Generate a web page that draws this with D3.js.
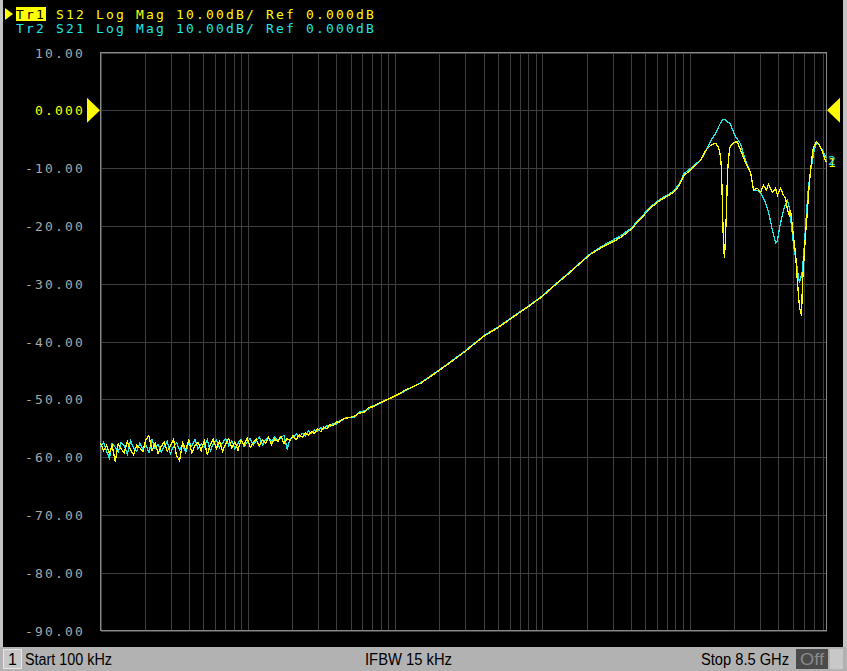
<!DOCTYPE html>
<html>
<head>
<meta charset="utf-8">
<script src="https://cdn.jsdelivr.net/npm/d3@7"></script>
<style>
  body { margin: 0; background: #c0c0c0; }
  svg { display: block; }
  .mono { font-family: "DejaVu Sans Mono", "Liberation Mono", monospace; font-size: 13px; letter-spacing: 2.17px; }
  .bar { font-family: "Liberation Sans Narrow", "Arial Narrow", "Liberation Sans", sans-serif; font-size: 16px; }
</style>
</head>
<body>
<script>
// frequency points of the sweep (MHz)
var freqMHz = [
	0.100, 0.105, 0.110, 0.115, 0.120, 0.126, 0.132, 0.138, 0.145, 0.152,
	0.160, 0.168, 0.176, 0.185, 0.194, 0.203, 0.213, 0.224, 0.235, 0.246,
	0.258, 0.271, 0.284, 0.298, 0.313, 0.328, 0.344, 0.361, 0.379, 0.398,
	0.417, 0.438, 0.459, 0.482, 0.506, 0.531, 0.557, 0.584, 0.613, 0.643,
	0.675, 0.708, 0.743, 0.780, 0.818, 0.858, 0.900, 0.945, 0.990, 1.04,
	1.09, 1.14, 1.20, 1.26, 1.32, 1.38, 1.45, 1.52, 1.60, 1.68,
	1.76, 1.85, 1.94, 2.03, 2.13, 2.24, 2.35, 2.46, 2.58, 2.71,
	2.84, 2.98, 3.13, 3.28, 3.44, 3.61, 3.79, 3.98, 4.17, 4.38,
	4.59, 5.0, 5.3, 5.7, 6.2, 6.6, 7.1, 7.7, 8.4, 9.2,
	10, 12, 15, 20, 25, 30, 40, 50, 60, 70,
	80, 100, 120, 150, 180, 210, 250, 300, 350, 400,
	450, 500, 560, 630, 700, 780, 850, 920, 1000, 1100,
	1186, 1282, 1323, 1386, 1430, 1499, 1571, 1621, 1647, 1673,
	1698, 1725, 1752, 1780, 1808, 1866, 1895, 1986, 2049, 2114,
	2216, 2395, 2591, 2715, 2890, 3029, 3175, 3327, 3432, 3654,
	3830, 3952, 4014, 4142, 4341, 4477, 4620, 4767, 4842, 4996,
	5074, 5235, 5402, 5573, 5751, 5840, 6026, 6121, 6315, 6415,
	6619, 6828, 6935, 7269, 7500, 7739, 7982, 8366, 8500
];

// Tr1 S12 (dB)
var s12 = [
	-57.6, -58.9, -57.9, -59.4, -58.0, -60.8, -57.7, -58.6, -59.2, -57.3,
	-58.8, -59.6, -57.9, -58.4, -59.1, -57.0, -56.3, -58.9, -57.6, -59.4,
	-58.2, -57.4, -59.0, -58.1, -56.9, -59.7, -60.6, -57.5, -58.7, -57.1,
	-59.3, -58.0, -57.4, -58.9, -57.2, -59.6, -57.8, -56.9, -58.5, -57.3,
	-59.0, -57.7, -56.8, -58.4, -57.4, -58.8, -57.1, -57.9, -56.7, -58.3,
	-57.5, -56.9, -58.1, -57.0, -57.6, -56.6, -57.8, -56.9, -57.3, -56.4,
	-57.6, -56.8, -57.1, -56.3, -57.0, -56.1, -56.6, -55.8, -56.2, -55.6,
	-55.9, -55.1, -55.6, -54.8, -55.1, -54.4, -54.6, -53.9, -54.0, -53.5,
	-53.3, -53.1, -52.9, -52.4, -52.2, -51.4, -51.3, -50.7, -50.4, -49.8,
	-49.4, -48.3, -47.2, -45.0, -43.2, -41.7, -39.1, -37.6, -36.2, -35.0,
	-34.0, -32.2, -30.4, -28.3, -26.5, -25.0, -23.8, -22.8, -21.8, -20.6,
	-19.2, -17.9, -16.6, -15.6, -14.9, -14.2, -13.0, -11.2, -10.5, -9.5,
	-8.7, -7.0, -6.6, -6.1, -5.9, -5.7, -6.4, -8.0, -10.4, -17.3,
	-23.1, -25.6, -22.0, -17.3, -10.7, -6.6, -6.2, -5.7, -5.5, -5.5,
	-6.9, -9.0, -10.7, -13.8, -13.5, -14.2, -13.0, -13.8, -12.8, -14.2,
	-13.5, -14.7, -14.2, -13.5, -14.7, -15.2, -17.3, -18.2, -17.3, -20.2,
	-22.0, -24.7, -29.9, -34.1, -35.5, -29.9, -24.2, -21.5, -17.3, -14.5,
	-10.4, -7.5, -6.4, -5.4, -5.8, -6.4, -7.2, -8.7, -8.9
];

// Tr2 S21 (dB)
var s21 = [
	-58.2, -57.4, -59.0, -60.2, -57.6, -58.3, -59.1, -57.5, -58.0, -59.5,
	-57.2, -58.4, -59.0, -57.6, -58.7, -57.9, -59.2, -57.0, -58.5, -57.8,
	-59.1, -58.0, -57.3, -59.4, -58.2, -57.5, -58.8, -57.9, -59.2, -57.4,
	-58.1, -56.9, -58.6, -57.7, -58.3, -57.0, -58.9, -57.6, -57.1, -58.4,
	-57.5, -56.8, -58.0, -57.2, -58.6, -57.6, -56.9, -58.2, -57.4, -56.8,
	-57.9, -57.2, -56.6, -57.9, -57.0, -56.6, -57.3, -56.5, -57.2, -56.7,
	-56.2, -58.6, -56.8, -56.6, -56.0, -56.5, -55.9, -56.3, -55.5, -55.9,
	-55.3, -55.5, -54.9, -55.2, -54.6, -54.7, -54.2, -54.3, -53.8, -53.6,
	-53.2, -53.2, -53.1, -52.2, -52.0, -51.7, -51.1, -50.9, -50.2, -49.9,
	-49.5, -48.4, -47.1, -44.9, -43.1, -41.6, -39.0, -37.5, -36.1, -34.9,
	-33.9, -32.1, -30.3, -28.2, -26.4, -24.9, -23.6, -22.5, -21.5, -20.4,
	-19.0, -17.7, -16.4, -15.4, -14.7, -14.0, -12.7, -10.9, -10.2, -9.2,
	-8.7, -7.2, -6.4, -5.4, -4.8, -4.0, -2.9, -2.2, -1.9, -1.7,
	-1.6, -1.6, -1.6, -1.8, -2.0, -2.2, -2.5, -3.7, -4.6, -5.0,
	-5.8, -8.7, -10.7, -13.8, -13.9, -14.2, -15.2, -16.5, -17.6, -20.8,
	-22.9, -22.6, -21.3, -19.5, -17.3, -16.2, -15.6, -17.0, -18.5, -21.5,
	-23.1, -25.5, -27.7, -29.8, -28.5, -27.7, -23.0, -20.2, -15.5, -13.3,
	-10.5, -8.7, -7.5, -5.5, -5.8, -6.4, -6.9, -8.0, -8.3
];

var yTicks = [10, 0, -10, -20, -30, -40, -50, -60, -70, -80, -90];
var header1 = ['Tr1', ' S12 Log Mag 10.00dB/ Ref 0.000dB'];
var header2 = 'Tr2 S21 Log Mag 10.00dB/ Ref 0.000dB';
var statusTexts = { start: 'Start 100 kHz', ifbw: 'IFBW 15 kHz', stop: 'Stop 8.5 GHz', off: 'Off' };

var W = 847, H = 671;
var yellow = '#ffff00', cyan = '#1ee8e8';

var svg = d3.select('body').append('svg')
	.attr('width', W)
	.attr('height', H);

// window frame and black screen
svg.append('rect').attr('width', W).attr('height', H).attr('fill', '#c4c4c4');
svg.append('rect').attr('x', 3).attr('y', 0).attr('width', 840).attr('height', 647).attr('fill', '#000');

// scales
var x = d3.scaleLog().domain([1e5, 8.5e9]).range([100.5, 826.5]);
var y = d3.scaleLinear().domain([-90, 10]).range([630.5, 52.5]);

// grid
var grid = svg.append('g').attr('shape-rendering', 'crispEdges');
grid.append('g')
	.attr('transform', 'translate(0,' + 630.5 + ')')
	.call(d3.axisBottom(x).tickValues(x.ticks()).tickSize(-(630.5 - 52.5)).tickFormat(''))
	.call(g => g.select('.domain').remove())
	.selectAll('line').attr('stroke', '#3f3f3f');
grid.append('g')
	.attr('transform', 'translate(100.5,0)')
	.call(d3.axisLeft(y).tickValues(yTicks).tickSize(-(826.5 - 100.5)).tickFormat(''))
	.call(g => g.select('.domain').remove())
	.selectAll('line').attr('stroke', '#3f3f3f');
grid.append('rect')
	.attr('x', 100.5).attr('y', 52.5)
	.attr('width', 726).attr('height', 578)
	.attr('fill', 'none').attr('stroke', '#8a8a8a');

// y tick labels
svg.append('g')
	.attr('class', 'mono')
	.selectAll('text')
	.data(yTicks)
	.enter()
	.append('text')
	.attr('x', 85)
	.attr('y', d => y(d) + 5)
	.attr('text-anchor', 'end')
	.attr('fill', d => (d === 0 ? yellow : '#a8a8a8'))
	.text(d => (d === 0 ? '0.000' : d.toFixed(2)));

// reference markers
svg.append('path')
	.attr('d', 'M87,' + (y(0) - 12.5) + 'L100,' + y(0) + 'L87,' + (y(0) + 12.5) + 'Z')
	.attr('fill', yellow);
svg.append('path')
	.attr('d', 'M840,' + (y(0) - 12.5) + 'L827,' + y(0) + 'L840,' + (y(0) + 12.5) + 'Z')
	.attr('fill', yellow);

// traces
var pts = freqMHz.map((f, i) => ({ f: f * 1e6, a: s12[i], b: s21[i] }));
var lineB = d3.line().x(d => x(d.f)).y(d => y(d.b));
var lineA = d3.line().x(d => x(d.f)).y(d => y(d.a));
var plot = svg.append('g').attr('shape-rendering', 'crispEdges');
plot.append('path').datum(pts).attr('d', lineB)
	.attr('fill', 'none').attr('stroke', cyan).attr('stroke-width', 1.3);
plot.append('path').datum(pts).attr('d', lineA)
	.attr('fill', 'none').attr('stroke', yellow).attr('stroke-width', 1.3);

// trace end labels
var last = pts[pts.length - 1];
svg.append('text').attr('class', 'mono').attr('x', 828).attr('y', y(last.a) + 5)
	.attr('fill', yellow).style('font-size', '13px').text('1');
svg.append('text').attr('class', 'mono').attr('x', 828).attr('y', y(last.b) + 7)
	.attr('fill', cyan).style('font-size', '13px').text('2');

// header
svg.append('path').attr('d', 'M5,8L13,14L5,20Z').attr('fill', yellow);
svg.append('rect').attr('x', 16).attr('y', 7).attr('width', 30).attr('height', 14).attr('fill', yellow);
var h1 = svg.append('text').attr('class', 'mono').attr('x', 16).attr('y', 18.5);
h1.append('tspan').attr('fill', '#000').text(header1[0]);
h1.append('tspan').attr('fill', yellow).style('white-space', 'pre').text(header1[1]);
svg.append('text').attr('class', 'mono').attr('x', 16).attr('y', 33)
	.attr('fill', cyan).text(header2);

// status bar
var bar = svg.append('g').attr('shape-rendering', 'crispEdges');
bar.append('rect').attr('x', 0).attr('y', 647).attr('width', W).attr('height', 24).attr('fill', '#b2b2b2');
bar.append('rect').attr('x', 3.5).attr('y', 649.5).attr('width', 18).attr('height', 19)
	.attr('fill', '#c8c8c8').attr('stroke', '#e6e6e6');
bar.append('rect').attr('x', 796).attr('y', 649).attr('width', 32).attr('height', 20).attr('fill', '#4a4a4a');
bar.append('rect').attr('x', 830).attr('y', 649).attr('width', 13).attr('height', 20).attr('fill', '#c8c8c8');
var bt = svg.append('g').attr('class', 'bar');
bt.append('text').attr('x', 8).attr('y', 665).attr('fill', '#000').text('1');
bt.append('text').attr('x', 25).attr('y', 665).attr('fill', '#000')
	.attr('textLength', 87).attr('lengthAdjust', 'spacingAndGlyphs').text(statusTexts.start);
bt.append('text').attr('x', 365).attr('y', 665).attr('fill', '#000')
	.attr('textLength', 87).attr('lengthAdjust', 'spacingAndGlyphs').text(statusTexts.ifbw);
bt.append('text').attr('x', 701).attr('y', 665).attr('fill', '#000')
	.attr('textLength', 88).attr('lengthAdjust', 'spacingAndGlyphs').text(statusTexts.stop);
bt.append('text').attr('x', 800).attr('y', 665).attr('fill', '#8a8a8a')
	.attr('textLength', 24).attr('lengthAdjust', 'spacingAndGlyphs').text(statusTexts.off);
</script>
</body>
</html>
